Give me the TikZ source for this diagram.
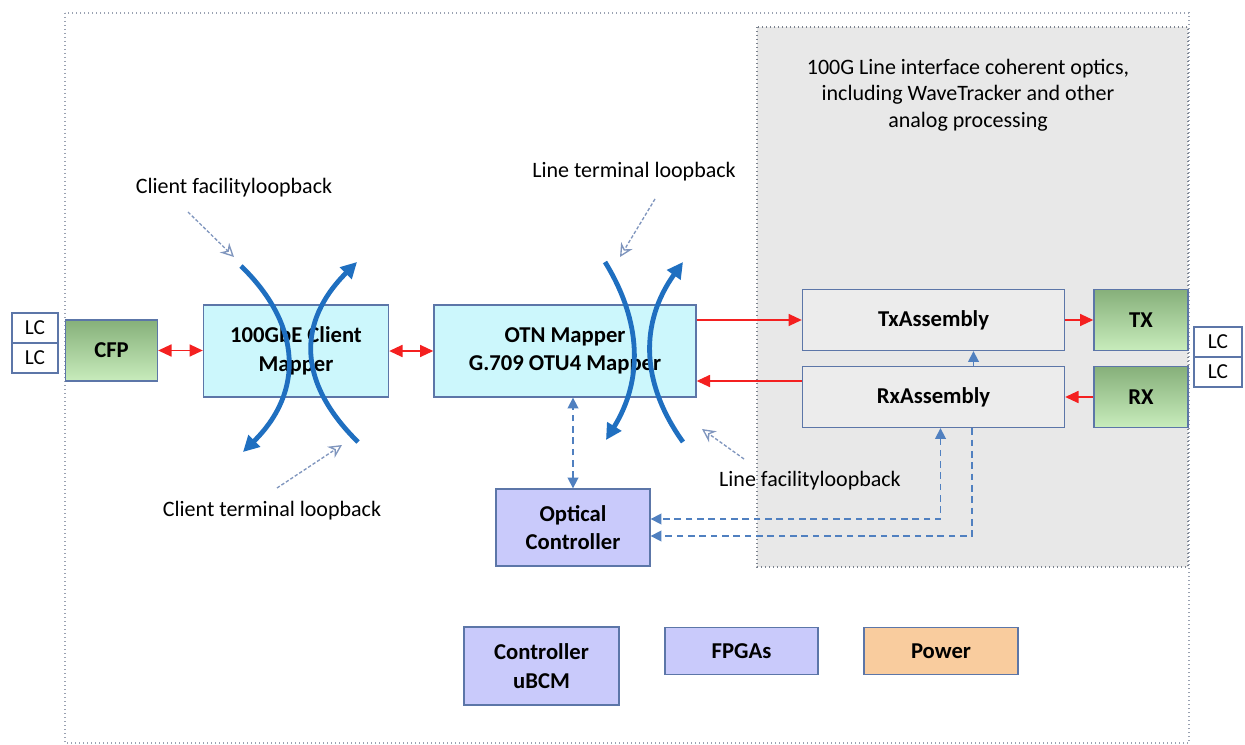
\documentclass[tikz,border=0pt]{standalone}
\usepackage{fontspec}
\setmainfont{Carlito}
\usetikzlibrary{arrows.meta,calc}
\definecolor{bord}{HTML}{5C76A8}
\definecolor{cyanfill}{HTML}{CCF7FC}
\definecolor{lavfill}{HTML}{C9CAFB}
\definecolor{orfill}{HTML}{F9CC9E}
\definecolor{grayfill}{HTML}{E8E8E8}
\definecolor{asmfill}{HTML}{ECECEC}
\definecolor{gdark}{HTML}{86B07A}
\definecolor{glight}{HTML}{C8ECBC}
\definecolor{redc}{HTML}{F42020}
\definecolor{loopc}{HTML}{1F6FC0}
\definecolor{dblue}{HTML}{5080C0}
\definecolor{ptr}{HTML}{8096BE}
\definecolor{dotc}{HTML}{9AA2B2}
\tikzset{
  btip/.tip={Triangle[length=8pt,width=8pt]},
  rtp/.tip={Triangle[length=10pt,width=9pt]},
  wh/.style 2 args={minimum width=#1*0.75pt, minimum height=#2*0.75pt},
  blk/.style={draw=bord, line width=1pt, inner sep=0pt, align=center,
    font=\bfseries\fontsize{17}{21.5}\selectfont},
  cyanbox/.style={blk, fill=cyanfill},
  lavbox/.style={blk, fill=lavfill},
  asmbox/.style={blk, fill=asmfill},
  greenbox/.style={blk, top color=gdark, bottom color=glight},
  lcbox/.style={draw=bord, line width=1pt, fill=white, inner sep=0pt,
    font=\fontsize{16}{19}\selectfont},
  lbl/.style={font=\fontsize{16.5}{20}\selectfont, inner sep=0pt, align=center},
  redarr/.style={draw=redc, line width=1.3pt},
  loopa/.style={draw=loopc, line width=3.6pt, -{Triangle[length=12pt,width=12pt]}},
  dasharr/.style={draw=dblue, line width=1.2pt, dash pattern=on 5pt off 3.5pt},
  pointer/.style={draw=ptr, line width=1pt, dash pattern=on 2.5pt off 1.5pt,
    -{Stealth[open,length=10pt,width=10pt]}},
}
\begin{document}
\begin{tikzpicture}[x=0.75pt,y=-0.75pt]
\useasboundingbox (0,0) rectangle (1245,745);
\fill[white] (0,0) rectangle (1245,745);
% outer frame
\draw[dotc, line width=1pt, dotted] (65,13) rectangle (1189,743);
% gray line-interface region
\draw[draw=dotc!80!black, fill=grayfill, line width=1pt, dotted] (757,27) rectangle (1188,567);
\node[lbl] (gtext) at (968,95) {100G Line interface coherent optics,\\including WaveTracker and other\\analog processing};

% left LC
\node[lcbox, wh={46}{30}] (lcl1) at (35,328) {LC};
\node[lcbox, wh={46}{30}] (lcl2) at (35,358) {LC};
% right LC
\node[lcbox, wh={48}{30}] (lcr1) at (1218,342) {LC};
\node[lcbox, wh={48}{30}] (lcr2) at (1218,372) {LC};

% blocks
\node[greenbox, wh={92}{61}] (cfp) at (111.5,350.5) {CFP};
\node[cyanbox, wh={185}{92}] (cm) at (296,351) {100GbE Client\\Mapper};
\node[cyanbox, wh={262}{92}] (otn) at (565,351) {OTN Mapper\\G.709 OTU4 Mapper};
\node[asmbox, wh={262}{61}] (tx) at (933.5,320) {TxAssembly};
\node[asmbox, wh={262}{61}] (rx) at (933.5,397) {RxAssembly};
\node[greenbox, wh={94}{61}] (txo) at (1141,320) {TX};
\node[greenbox, wh={94}{61}] (rxo) at (1141,397) {RX};
\node[lavbox, wh={154}{77}] (oc) at (573,527.5) {Optical\\Controller};
\node[lavbox, wh={155}{78}] (ubcm) at (541.5,666) {Controller\\uBCM};
\node[lavbox, wh={153}{47}] (fpga) at (741.5,651) {FPGAs};
\node[blk, fill=orfill, wh={154}{47}] (pwr) at (941,651) {Power};

% red data arrows
\draw[redarr, rtp-rtp] (cfp.east) -- (cfp.east -| cm.west);
\draw[redarr, rtp-rtp] (cm.east) -- (cm.east -| otn.west);
\draw[redarr, -rtp] (otn.east |- tx.west) -- (tx.west);
\draw[redarr, -rtp] (tx.east) -- (txo.west);
\draw[redarr, -rtp] (rxo.west) -- (rx.east);
\coordinate (rxa) at ($(rx.west)+(0,-16)$);
\draw[redarr, -rtp] (rxa) -- (rxa -| otn.east);

% small Rx -> Tx arrow
\draw[draw=dblue, line width=1.2pt, -btip] ($(rx.north)+(40,0)$) -- ($(tx.south)+(40,0)$);

% control paths (dashed)
\draw[dasharr, btip-btip] (oc.north) -- (oc.north |- otn.south);
\draw[dasharr, btip-btip] ($(rx.south)+(7,0)$) |- ($(oc.east)+(0,-8.5)$);
\draw[dasharr, -btip] ($(rx.south)+(38.5,0)$) |- ($(oc.east)+(0,8.5)$);

% loopback arcs
\coordinate (c1a) at (241,266); \coordinate (c1b) at (243,452);
\coordinate (c2a) at (358,442); \coordinate (c2b) at (357,262);
\coordinate (o1a) at (605,262); \coordinate (o1b) at (606,440);
\coordinate (o2a) at (683,442); \coordinate (o2b) at (683,262);
\draw[loopa] (c1a) .. controls (302,325) and (304,392) .. (c1b);
\draw[loopa] (c2a) .. controls (297,382) and (297,322) .. (c2b);
\draw[loopa] (o1a) .. controls (642,322) and (643,380) .. (o1b);
\draw[loopa] (o2a) .. controls (640,382) and (640,322) .. (o2b);

% labels with pointers
\node[lbl] (lcf) at (234,188) {Client facilityloopback};
\node[lbl] (lct) at (272,511) {Client terminal loopback};
\node[lbl] (ltl) at (634,172) {Line terminal loopback};
\node[lbl] (lfl) at (810,481) {Line facilityloopback};
\coordinate (p1s) at (188,212); \coordinate (p1e) at (234,257);
\coordinate (p2s) at (277,488); \coordinate (p2e) at (342,445);
\coordinate (p3s) at (655,199); \coordinate (p3e) at (620,257);
\coordinate (p4s) at (744,459); \coordinate (p4e) at (702,429);
\draw[pointer] (p1s) -- (p1e);
\draw[pointer] (p2s) -- (p2e);
\draw[pointer] (p3s) -- (p3e);
\draw[pointer] (p4s) -- (p4e);
\end{tikzpicture}
\end{document}
